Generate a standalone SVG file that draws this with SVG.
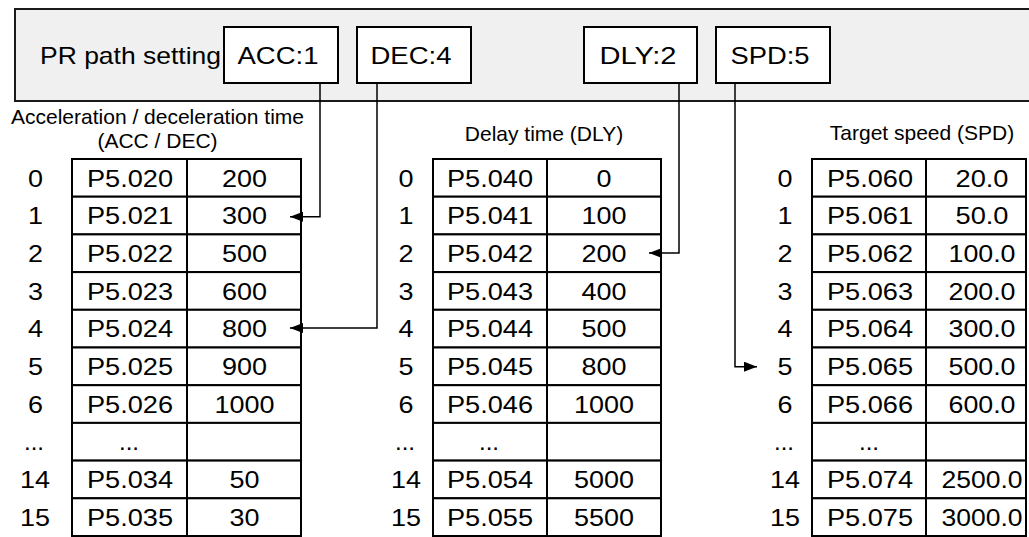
<svg xmlns="http://www.w3.org/2000/svg" width="1029" height="537" viewBox="0 0 1029 537">
<style>
text{font-family:"Liberation Sans",Arial,sans-serif;fill:#000}
.t24{font-size:24px;text-anchor:middle}
.t21{font-size:21px;text-anchor:middle}
.lbl{font-size:24px}
.cell{fill:#fff;stroke:#000;stroke-width:2}
.bar{fill:#f0f0f0;stroke:#1a1a1a;stroke-width:2}
.conn{fill:none;stroke:#000;stroke-width:1.5}
</style>
<defs>
<marker id="ah" markerUnits="userSpaceOnUse" markerWidth="14" markerHeight="11" refX="13" refY="5" orient="auto">
<path d="M0,0 L13,5 L0,10 z" fill="#000"/>
</marker>
</defs>
<g id="pr-path-setting">
<rect class="bar" x="15" y="9" width="1030" height="92"/>
<text class="lbl" x="40" y="64" textLength="181" lengthAdjust="spacingAndGlyphs">PR path setting</text>
</g>
<g id="box-acc"><rect class="cell" x="224" y="27" width="114" height="56"/><text class="t24" x="278" y="64" textLength="81" lengthAdjust="spacingAndGlyphs">ACC:1</text></g>
<g id="box-dec"><rect class="cell" x="357" y="27" width="114" height="56"/><text class="t24" x="411" y="64" textLength="81" lengthAdjust="spacingAndGlyphs">DEC:4</text></g>
<g id="box-dly"><rect class="cell" x="584" y="27" width="113" height="56"/><text class="t24" x="638" y="64" textLength="77" lengthAdjust="spacingAndGlyphs">DLY:2</text></g>
<g id="box-spd"><rect class="cell" x="716" y="27" width="114" height="56"/><text class="t24" x="770" y="64" textLength="79" lengthAdjust="spacingAndGlyphs">SPD:5</text></g>

<g id="table-acc-dec">
<text class="t21" x="157.5" y="124">Acceleration / deceleration time</text>
<text class="t21" x="157.5" y="148">(ACC / DEC)</text>
<rect class="cell" x="72" y="159" width="115" height="37.7"/><rect class="cell" x="187" y="159" width="114" height="37.7"/>
<rect class="cell" x="72" y="196.7" width="115" height="37.7"/><rect class="cell" x="187" y="196.7" width="114" height="37.7"/>
<rect class="cell" x="72" y="234.4" width="115" height="37.7"/><rect class="cell" x="187" y="234.4" width="114" height="37.7"/>
<rect class="cell" x="72" y="272.1" width="115" height="37.7"/><rect class="cell" x="187" y="272.1" width="114" height="37.7"/>
<rect class="cell" x="72" y="309.8" width="115" height="37.7"/><rect class="cell" x="187" y="309.8" width="114" height="37.7"/>
<rect class="cell" x="72" y="347.5" width="115" height="37.7"/><rect class="cell" x="187" y="347.5" width="114" height="37.7"/>
<rect class="cell" x="72" y="385.2" width="115" height="37.7"/><rect class="cell" x="187" y="385.2" width="114" height="37.7"/>
<rect class="cell" x="72" y="422.9" width="115" height="37.7"/><rect class="cell" x="187" y="422.9" width="114" height="37.7"/>
<rect class="cell" x="72" y="460.6" width="115" height="37.7"/><rect class="cell" x="187" y="460.6" width="114" height="37.7"/>
<rect class="cell" x="72" y="498.3" width="115" height="37.7"/><rect class="cell" x="187" y="498.3" width="114" height="37.7"/>
<text class="t24" x="35.5" y="186.5" textLength="15" lengthAdjust="spacingAndGlyphs">0</text><text class="t24" x="130" y="186.5" textLength="86" lengthAdjust="spacingAndGlyphs">P5.020</text><text class="t24" x="244.5" y="186.5" textLength="45" lengthAdjust="spacingAndGlyphs">200</text>
<text class="t24" x="35.5" y="224.2" textLength="15" lengthAdjust="spacingAndGlyphs">1</text><text class="t24" x="130" y="224.2" textLength="86" lengthAdjust="spacingAndGlyphs">P5.021</text><text class="t24" x="244.5" y="224.2" textLength="45" lengthAdjust="spacingAndGlyphs">300</text>
<text class="t24" x="35.5" y="261.9" textLength="15" lengthAdjust="spacingAndGlyphs">2</text><text class="t24" x="130" y="261.9" textLength="86" lengthAdjust="spacingAndGlyphs">P5.022</text><text class="t24" x="244.5" y="261.9" textLength="45" lengthAdjust="spacingAndGlyphs">500</text>
<text class="t24" x="35.5" y="299.6" textLength="15" lengthAdjust="spacingAndGlyphs">3</text><text class="t24" x="130" y="299.6" textLength="86" lengthAdjust="spacingAndGlyphs">P5.023</text><text class="t24" x="244.5" y="299.6" textLength="45" lengthAdjust="spacingAndGlyphs">600</text>
<text class="t24" x="35.5" y="337.3" textLength="15" lengthAdjust="spacingAndGlyphs">4</text><text class="t24" x="130" y="337.3" textLength="86" lengthAdjust="spacingAndGlyphs">P5.024</text><text class="t24" x="244.5" y="337.3" textLength="45" lengthAdjust="spacingAndGlyphs">800</text>
<text class="t24" x="35.5" y="375" textLength="15" lengthAdjust="spacingAndGlyphs">5</text><text class="t24" x="130" y="375" textLength="86" lengthAdjust="spacingAndGlyphs">P5.025</text><text class="t24" x="244.5" y="375" textLength="45" lengthAdjust="spacingAndGlyphs">900</text>
<text class="t24" x="35.5" y="412.7" textLength="15" lengthAdjust="spacingAndGlyphs">6</text><text class="t24" x="130" y="412.7" textLength="86" lengthAdjust="spacingAndGlyphs">P5.026</text><text class="t24" x="244.5" y="412.7" textLength="60" lengthAdjust="spacingAndGlyphs">1000</text>
<text class="t24" x="34" y="450.4">...</text><text class="t24" x="129" y="450.4">...</text>
<text class="t24" x="35" y="488.1" textLength="30" lengthAdjust="spacingAndGlyphs">14</text><text class="t24" x="130" y="488.1" textLength="86" lengthAdjust="spacingAndGlyphs">P5.034</text><text class="t24" x="244.5" y="488.1" textLength="30" lengthAdjust="spacingAndGlyphs">50</text>
<text class="t24" x="35" y="525.8" textLength="30" lengthAdjust="spacingAndGlyphs">15</text><text class="t24" x="130" y="525.8" textLength="86" lengthAdjust="spacingAndGlyphs">P5.035</text><text class="t24" x="244.5" y="525.8" textLength="30" lengthAdjust="spacingAndGlyphs">30</text>
</g>

<g id="table-dly">
<text class="t21" x="544" y="141">Delay time (DLY)</text>
<rect class="cell" x="433" y="159" width="114" height="37.7"/><rect class="cell" x="547" y="159" width="114" height="37.7"/>
<rect class="cell" x="433" y="196.7" width="114" height="37.7"/><rect class="cell" x="547" y="196.7" width="114" height="37.7"/>
<rect class="cell" x="433" y="234.4" width="114" height="37.7"/><rect class="cell" x="547" y="234.4" width="114" height="37.7"/>
<rect class="cell" x="433" y="272.1" width="114" height="37.7"/><rect class="cell" x="547" y="272.1" width="114" height="37.7"/>
<rect class="cell" x="433" y="309.8" width="114" height="37.7"/><rect class="cell" x="547" y="309.8" width="114" height="37.7"/>
<rect class="cell" x="433" y="347.5" width="114" height="37.7"/><rect class="cell" x="547" y="347.5" width="114" height="37.7"/>
<rect class="cell" x="433" y="385.2" width="114" height="37.7"/><rect class="cell" x="547" y="385.2" width="114" height="37.7"/>
<rect class="cell" x="433" y="422.9" width="114" height="37.7"/><rect class="cell" x="547" y="422.9" width="114" height="37.7"/>
<rect class="cell" x="433" y="460.6" width="114" height="37.7"/><rect class="cell" x="547" y="460.6" width="114" height="37.7"/>
<rect class="cell" x="433" y="498.3" width="114" height="37.7"/><rect class="cell" x="547" y="498.3" width="114" height="37.7"/>
<text class="t24" x="406" y="186.5" textLength="15" lengthAdjust="spacingAndGlyphs">0</text><text class="t24" x="490" y="186.5" textLength="86" lengthAdjust="spacingAndGlyphs">P5.040</text><text class="t24" x="604" y="186.5" textLength="15" lengthAdjust="spacingAndGlyphs">0</text>
<text class="t24" x="406" y="224.2" textLength="15" lengthAdjust="spacingAndGlyphs">1</text><text class="t24" x="490" y="224.2" textLength="86" lengthAdjust="spacingAndGlyphs">P5.041</text><text class="t24" x="604" y="224.2" textLength="45" lengthAdjust="spacingAndGlyphs">100</text>
<text class="t24" x="406" y="261.9" textLength="15" lengthAdjust="spacingAndGlyphs">2</text><text class="t24" x="490" y="261.9" textLength="86" lengthAdjust="spacingAndGlyphs">P5.042</text><text class="t24" x="604" y="261.9" textLength="45" lengthAdjust="spacingAndGlyphs">200</text>
<text class="t24" x="406" y="299.6" textLength="15" lengthAdjust="spacingAndGlyphs">3</text><text class="t24" x="490" y="299.6" textLength="86" lengthAdjust="spacingAndGlyphs">P5.043</text><text class="t24" x="604" y="299.6" textLength="45" lengthAdjust="spacingAndGlyphs">400</text>
<text class="t24" x="406" y="337.3" textLength="15" lengthAdjust="spacingAndGlyphs">4</text><text class="t24" x="490" y="337.3" textLength="86" lengthAdjust="spacingAndGlyphs">P5.044</text><text class="t24" x="604" y="337.3" textLength="45" lengthAdjust="spacingAndGlyphs">500</text>
<text class="t24" x="406" y="375" textLength="15" lengthAdjust="spacingAndGlyphs">5</text><text class="t24" x="490" y="375" textLength="86" lengthAdjust="spacingAndGlyphs">P5.045</text><text class="t24" x="604" y="375" textLength="45" lengthAdjust="spacingAndGlyphs">800</text>
<text class="t24" x="406" y="412.7" textLength="15" lengthAdjust="spacingAndGlyphs">6</text><text class="t24" x="490" y="412.7" textLength="86" lengthAdjust="spacingAndGlyphs">P5.046</text><text class="t24" x="604" y="412.7" textLength="60" lengthAdjust="spacingAndGlyphs">1000</text>
<text class="t24" x="405" y="450.4">...</text><text class="t24" x="489" y="450.4">...</text>
<text class="t24" x="406" y="488.1" textLength="30" lengthAdjust="spacingAndGlyphs">14</text><text class="t24" x="490" y="488.1" textLength="86" lengthAdjust="spacingAndGlyphs">P5.054</text><text class="t24" x="604" y="488.1" textLength="60" lengthAdjust="spacingAndGlyphs">5000</text>
<text class="t24" x="406" y="525.8" textLength="30" lengthAdjust="spacingAndGlyphs">15</text><text class="t24" x="490" y="525.8" textLength="86" lengthAdjust="spacingAndGlyphs">P5.055</text><text class="t24" x="604" y="525.8" textLength="60" lengthAdjust="spacingAndGlyphs">5500</text>
</g>

<g id="table-spd">
<text class="t21" x="922" y="140">Target speed (SPD)</text>
<rect class="cell" x="812" y="159" width="114" height="37.7"/><rect class="cell" x="926" y="159" width="100" height="37.7"/>
<rect class="cell" x="812" y="196.7" width="114" height="37.7"/><rect class="cell" x="926" y="196.7" width="100" height="37.7"/>
<rect class="cell" x="812" y="234.4" width="114" height="37.7"/><rect class="cell" x="926" y="234.4" width="100" height="37.7"/>
<rect class="cell" x="812" y="272.1" width="114" height="37.7"/><rect class="cell" x="926" y="272.1" width="100" height="37.7"/>
<rect class="cell" x="812" y="309.8" width="114" height="37.7"/><rect class="cell" x="926" y="309.8" width="100" height="37.7"/>
<rect class="cell" x="812" y="347.5" width="114" height="37.7"/><rect class="cell" x="926" y="347.5" width="100" height="37.7"/>
<rect class="cell" x="812" y="385.2" width="114" height="37.7"/><rect class="cell" x="926" y="385.2" width="100" height="37.7"/>
<rect class="cell" x="812" y="422.9" width="114" height="37.7"/><rect class="cell" x="926" y="422.9" width="100" height="37.7"/>
<rect class="cell" x="812" y="460.6" width="114" height="37.7"/><rect class="cell" x="926" y="460.6" width="100" height="37.7"/>
<rect class="cell" x="812" y="498.3" width="114" height="37.7"/><rect class="cell" x="926" y="498.3" width="100" height="37.7"/>
<text class="t24" x="785" y="186.5" textLength="15" lengthAdjust="spacingAndGlyphs">0</text><text class="t24" x="870" y="186.5" textLength="86" lengthAdjust="spacingAndGlyphs">P5.060</text><text class="t24" x="982" y="186.5" textLength="53" lengthAdjust="spacingAndGlyphs">20.0</text>
<text class="t24" x="785" y="224.2" textLength="15" lengthAdjust="spacingAndGlyphs">1</text><text class="t24" x="870" y="224.2" textLength="86" lengthAdjust="spacingAndGlyphs">P5.061</text><text class="t24" x="982" y="224.2" textLength="53" lengthAdjust="spacingAndGlyphs">50.0</text>
<text class="t24" x="785" y="261.9" textLength="15" lengthAdjust="spacingAndGlyphs">2</text><text class="t24" x="870" y="261.9" textLength="86" lengthAdjust="spacingAndGlyphs">P5.062</text><text class="t24" x="982" y="261.9" textLength="67" lengthAdjust="spacingAndGlyphs">100.0</text>
<text class="t24" x="785" y="299.6" textLength="15" lengthAdjust="spacingAndGlyphs">3</text><text class="t24" x="870" y="299.6" textLength="86" lengthAdjust="spacingAndGlyphs">P5.063</text><text class="t24" x="982" y="299.6" textLength="67" lengthAdjust="spacingAndGlyphs">200.0</text>
<text class="t24" x="785" y="337.3" textLength="15" lengthAdjust="spacingAndGlyphs">4</text><text class="t24" x="870" y="337.3" textLength="86" lengthAdjust="spacingAndGlyphs">P5.064</text><text class="t24" x="982" y="337.3" textLength="67" lengthAdjust="spacingAndGlyphs">300.0</text>
<text class="t24" x="785" y="375" textLength="15" lengthAdjust="spacingAndGlyphs">5</text><text class="t24" x="870" y="375" textLength="86" lengthAdjust="spacingAndGlyphs">P5.065</text><text class="t24" x="982" y="375" textLength="67" lengthAdjust="spacingAndGlyphs">500.0</text>
<text class="t24" x="785" y="412.7" textLength="15" lengthAdjust="spacingAndGlyphs">6</text><text class="t24" x="870" y="412.7" textLength="86" lengthAdjust="spacingAndGlyphs">P5.066</text><text class="t24" x="982" y="412.7" textLength="67" lengthAdjust="spacingAndGlyphs">600.0</text>
<text class="t24" x="784" y="450.4">...</text><text class="t24" x="869" y="450.4">...</text>
<text class="t24" x="785" y="488.1" textLength="30" lengthAdjust="spacingAndGlyphs">14</text><text class="t24" x="870" y="488.1" textLength="86" lengthAdjust="spacingAndGlyphs">P5.074</text><text class="t24" x="982" y="488.1" textLength="81" lengthAdjust="spacingAndGlyphs">2500.0</text>
<text class="t24" x="785" y="525.8" textLength="30" lengthAdjust="spacingAndGlyphs">15</text><text class="t24" x="870" y="525.8" textLength="86" lengthAdjust="spacingAndGlyphs">P5.075</text><text class="t24" x="982" y="525.8" textLength="81" lengthAdjust="spacingAndGlyphs">3000.0</text>
</g>

<g id="connectors">
<path class="conn" d="M320,83 V216.7 H290" marker-end="url(#ah)"/>
<path class="conn" d="M377,83 V328 H290" marker-end="url(#ah)"/>
<path class="conn" d="M679,83 V253 H649" marker-end="url(#ah)"/>
<path class="conn" d="M735,83 V366.7 H757" marker-end="url(#ah)"/>
</g>
</svg>
